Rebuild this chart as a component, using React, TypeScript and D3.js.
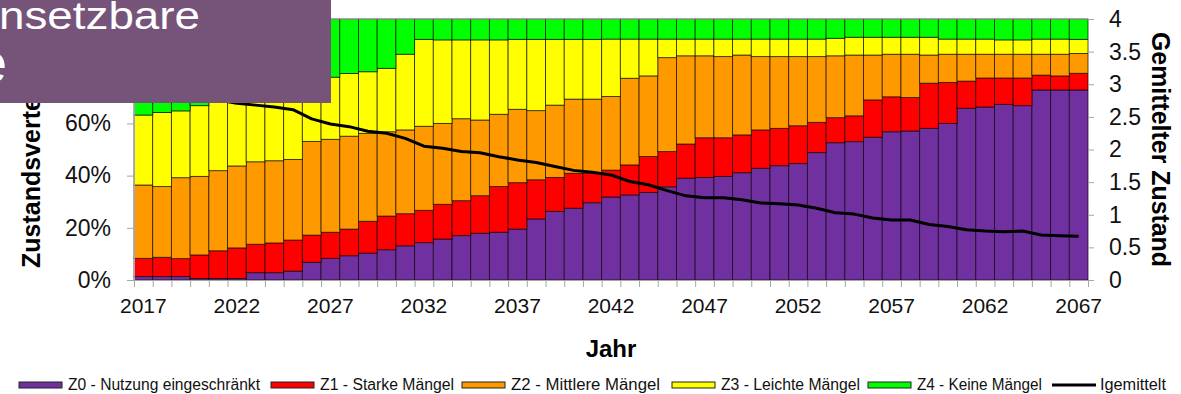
import React, { useEffect, useRef } from 'react'
import * as d3 from 'd3'

const years = d3.range(2017, 2068)

// Anteile je Zustand in %
const z0 = [1.3, 1.3, 1.3, 0.6, 0.6, 0.6, 2.8, 2.8, 3.4, 6.8, 8.3, 9.3, 10.3, 11.6, 13.1, 14.3, 15.7, 17.0, 17.9, 18.3, 19.5, 23.4, 26.3, 27.5, 29.6, 31.8, 32.6, 33.5, 35.7, 39.0, 39.3, 39.7, 41.1, 42.8, 43.8, 44.6, 48.8, 52.6, 53.0, 54.7, 56.8, 57.1, 58.1, 60.0, 65.8, 66.3, 67.3, 66.8, 72.8, 72.8, 72.8]
const z1 = [7.0, 7.4, 6.9, 9.0, 10.6, 11.7, 10.9, 11.4, 11.9, 10.4, 10.0, 10.2, 12.2, 12.9, 12.3, 12.4, 13.3, 13.4, 14.4, 17.5, 17.8, 15.0, 13.0, 13.4, 11.3, 10.3, 11.5, 13.8, 13.5, 13.1, 15.2, 14.8, 14.5, 14.7, 14.3, 14.5, 11.6, 9.6, 9.9, 14.3, 13.4, 12.8, 17.3, 15.7, 10.4, 11.1, 10.1, 10.6, 5.7, 5.4, 6.4]
const z2 = [28.1, 27.1, 31.0, 30.1, 30.7, 31.4, 31.6, 31.5, 30.9, 35.9, 35.6, 35.6, 33.7, 32.3, 32.1, 32.2, 31.0, 31.4, 29.0, 27.7, 28.1, 26.5, 27.7, 28.4, 28.4, 28.2, 33.2, 30.9, 36.0, 33.8, 31.4, 31.1, 30.6, 28.1, 27.5, 26.5, 25.2, 23.7, 23.3, 17.2, 16.3, 16.6, 10.8, 10.8, 10.3, 9.1, 9.1, 9.1, 8.0, 8.3, 7.6]
const z3 = [26.8, 28.4, 25.6, 27.1, 26.1, 25.3, 24.7, 25.3, 25.8, 21.9, 23.8, 24.0, 23.6, 24.3, 29.0, 33.3, 32.0, 30.2, 30.7, 28.5, 26.8, 27.3, 25.2, 22.9, 22.9, 22.0, 15.0, 14.1, 7.1, 6.4, 6.4, 6.7, 6.1, 6.7, 6.7, 6.7, 6.7, 6.7, 6.8, 6.8, 6.5, 6.5, 6.8, 5.8, 5.8, 5.8, 5.5, 5.5, 5.8, 5.8, 5.4]
const z4 = [36.8, 35.8, 35.2, 33.2, 32.0, 31.0, 30.0, 29.0, 28.0, 25.0, 22.3, 20.9, 20.2, 18.9, 13.5, 7.8, 8.0, 8.0, 8.0, 8.0, 7.8, 7.8, 7.8, 7.8, 7.8, 7.7, 7.7, 7.7, 7.7, 7.7, 7.7, 7.7, 7.7, 7.7, 7.7, 7.7, 7.7, 7.4, 7.0, 7.0, 7.0, 7.0, 7.0, 7.7, 7.7, 7.7, 8.0, 8.0, 7.7, 7.7, 7.8]

// gemittelter Zustand (rechte Achse)
const mittel = [2.90, 2.89, 2.85, 2.81, 2.76, 2.71, 2.68, 2.65, 2.61, 2.47, 2.39, 2.35, 2.28, 2.25, 2.17, 2.05, 2.02, 1.97, 1.95, 1.89, 1.84, 1.80, 1.74, 1.68, 1.65, 1.61, 1.51, 1.46, 1.37, 1.29, 1.26, 1.26, 1.23, 1.18, 1.17, 1.15, 1.10, 1.03, 1.01, 0.95, 0.92, 0.92, 0.85, 0.82, 0.77, 0.75, 0.74, 0.75, 0.69, 0.68, 0.67]

const keys = ['z0', 'z1', 'z2', 'z3', 'z4']
const labels = ['Z0 - Nutzung eingeschränkt', 'Z1 - Starke Mängel', 'Z2 - Mittlere Mängel', 'Z3 - Leichte Mängel', 'Z4 - Keine Mängel']
const colors = ['#7030A0', '#FF0000', '#FF9900', '#FFFF00', '#00FF00']
const xLabels = [2017, 2022, 2027, 2032, 2037, 2042, 2047, 2052, 2057, 2062, 2067]
const leftTicks = [0, 20, 40, 60, 80, 100]
const rightTicks = [0, 0.5, 1, 1.5, 2, 2.5, 3, 3.5, 4]

const W = 1181
const H = 394
const font = '"Liberation Sans", Arial, sans-serif'

const App = () => {
    const ref = useRef(null)

    useEffect(() => {
        const svg = d3.select(ref.current)
        svg.selectAll('*').remove()

        const left = 134, right = 1088, top = 19, bottom = 280
        const rows = years.map((y, i) => ({ year: y, z0: z0[i], z1: z1[i], z2: z2[i], z3: z3[i], z4: z4[i] }))

        const x = d3.scaleBand().domain(years.map(String)).range([left, right]).padding(0)
        const xLin = d3.scaleLinear().domain([0, years.length]).range([left, right])
        const y = d3.scaleLinear().domain([0, 100]).range([bottom, top])
        const y2 = d3.scaleLinear().domain([0, 4]).range([bottom, top])

        const stack = d3.stack().keys(keys)(rows)

        // Balken
        svg.append('g')
            .selectAll('g')
            .data(stack)
            .join('g')
            .attr('fill', (d, i) => colors[i])
            .selectAll('rect')
            .data(d => d)
            .join('rect')
            .attr('x', d => x(String(d.data.year)))
            .attr('y', d => y(d[1]))
            .attr('width', x.bandwidth())
            .attr('height', d => y(d[0]) - y(d[1]))
            .attr('stroke', '#000')
            .attr('stroke-opacity', 0.7)
            .attr('stroke-width', 0.9)

        const grey = '#a6a6a6'

        // Rahmen oben
        svg.append('line')
            .attr('x1', left).attr('x2', right)
            .attr('y1', top).attr('y2', top)
            .attr('stroke', grey)

        // x-Achse: Striche an den Balkengrenzen
        const gx = svg.append('g')
            .attr('transform', `translate(0,${bottom})`)
            .call(d3.axisBottom(xLin).tickValues(d3.range(0, years.length + 1)).tickSize(7).tickFormat(() => ''))
        gx.selectAll('line, path').attr('stroke', grey)

        // Jahresbeschriftung
        svg.append('g')
            .selectAll('text')
            .data(xLabels)
            .join('text')
            .attr('x', d => x(String(d)) + x.bandwidth() / 2)
            .attr('y', 313)
            .attr('text-anchor', 'middle')
            .style('font-family', font)
            .style('font-size', '21px')
            .attr('fill', '#111')
            .text(d => d)

        // linke Achse
        const gl = svg.append('g')
            .attr('transform', `translate(${left},0)`)
            .call(d3.axisLeft(y).tickValues(leftTicks).tickSize(7).tickPadding(16).tickFormat(d => d + '%'))
        gl.selectAll('line, path').attr('stroke', grey)
        gl.selectAll('text').style('font-family', font).style('font-size', '23px').attr('fill', '#111')

        // rechte Achse
        const gr = svg.append('g')
            .attr('transform', `translate(${right},0)`)
            .call(d3.axisRight(y2).tickValues(rightTicks).tickSize(6).tickPadding(15).tickFormat(d => String(d)))
        gr.selectAll('line, path').attr('stroke', grey)
        gr.selectAll('text').style('font-family', font).style('font-size', '23px').attr('fill', '#111')

        // Linie gemittelter Zustand
        const line = d3.line()
            .x((d, i) => x(String(years[i])) + x.bandwidth() / 2)
            .y(d => y2(d))
        svg.append('path')
            .datum(mittel)
            .attr('d', line)
            .attr('fill', 'none')
            .attr('stroke', '#000')
            .attr('stroke-width', 3)
            .attr('stroke-linejoin', 'round')

        // Achsentitel
        svg.append('text')
            .attr('x', 611).attr('y', 357)
            .attr('text-anchor', 'middle')
            .style('font-family', font).style('font-size', '24px').style('font-weight', 'bold')
            .text('Jahr')

        svg.append('text')
            .attr('transform', 'translate(40,268) rotate(-90)')
            .attr('text-anchor', 'start')
            .style('font-family', font).style('font-size', '25px').style('font-weight', 'bold')
            .text('Zustandsverteilung')

        svg.append('text')
            .attr('transform', 'translate(1152,32) rotate(90)')
            .attr('text-anchor', 'start')
            .attr('textLength', 235).attr('lengthAdjust', 'spacingAndGlyphs')
            .style('font-family', font).style('font-size', '25px').style('font-weight', 'bold')
            .text('Gemittelter Zustand')

        // Legende
        const legX = [19, 271, 462, 672, 868]
        const legTextW = [192, 134, 149, 139, 125]
        const leg = svg.append('g')
        labels.forEach((l, i) => {
            leg.append('rect')
                .attr('x', legX[i]).attr('y', 382)
                .attr('width', 43).attr('height', 6)
                .attr('fill', colors[i])
                .attr('stroke', '#222').attr('stroke-width', 1)
            leg.append('text')
                .attr('x', legX[i] + 49).attr('y', 390)
                .attr('textLength', legTextW[i]).attr('lengthAdjust', 'spacingAndGlyphs')
                .style('font-family', font).style('font-size', '16px')
                .attr('fill', '#111')
                .text(l)
        })
        leg.append('line')
            .attr('x1', 1052).attr('x2', 1096)
            .attr('y1', 385).attr('y2', 385)
            .attr('stroke', '#000').attr('stroke-width', 3)
        leg.append('text')
            .attr('x', 1100).attr('y', 390)
            .attr('textLength', 66).attr('lengthAdjust', 'spacingAndGlyphs')
            .style('font-family', font).style('font-size', '16px')
            .attr('fill', '#111')
            .text('Igemittelt')

        // Überlagerte Box (abgeschnitten)
        svg.append('rect')
            .attr('x', 0).attr('y', 0)
            .attr('width', 331).attr('height', 103)
            .attr('fill', '#76547A')
        svg.append('text')
            .attr('x', -1).attr('y', 29)
            .attr('textLength', 201).attr('lengthAdjust', 'spacingAndGlyphs')
            .style('font-family', font).style('font-size', '38px')
            .attr('fill', '#fff')
            .text('nsetzbare')
        svg.append('text')
            .attr('x', -24).attr('y', 82)
            .style('font-family', font).style('font-size', '56px')
            .attr('fill', '#fff')
            .text('e')
    }, [])

    return (
        <div style={{ position: 'absolute', left: 0, top: 0 }}>
            <svg ref={ref} width={W} height={H} style={{ display: 'block', background: '#fff' }}></svg>
        </div>
    )
}

export default App
